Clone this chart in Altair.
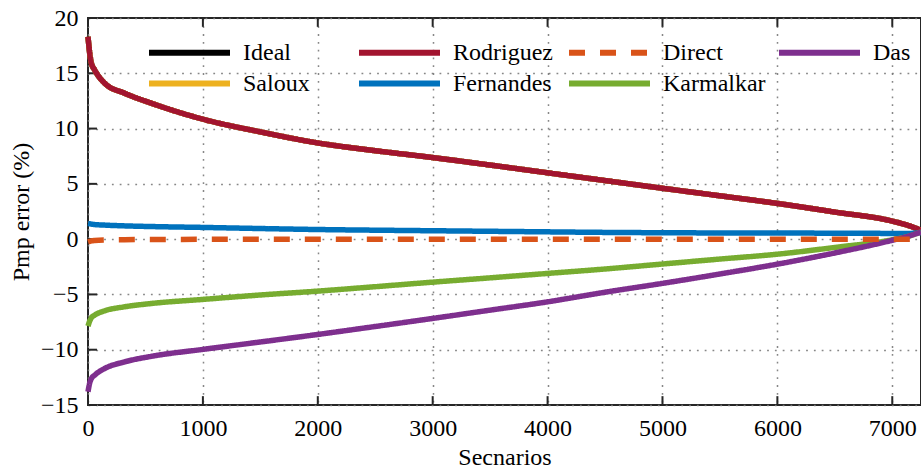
import altair as alt
import pandas as pd

# Scenario positions (x) at which values were read
scen = [0, 15, 30, 58, 145, 318, 550, 1000, 1500, 2000, 2500, 3000, 3500,
        4000, 4500, 5000, 5500, 6000, 6500, 7000, 7150, 7250]

ideal = [18.3, 16.8, 15.9, 15.3, 14.1, 13.2, 12.3, 10.85, 9.7, 8.7, 8.0, 7.38,
         6.7, 6.0, 5.3, 4.6, 3.92, 3.23, 2.45, 1.63, 1.2, 0.8]
saloux = [18.3, 16.8, 15.9, 15.3, 14.1, 13.2, 12.3, 10.85, 9.7, 8.7, 8.0, 7.38,
          6.7, 6.0, 5.3, 4.6, 3.92, 3.23, 2.45, 1.63, 1.2, 0.8]
rodriguez = [18.3, 16.8, 15.9, 15.3, 14.1, 13.2, 12.3, 10.85, 9.7, 8.7, 8.0, 7.38,
             6.7, 6.0, 5.3, 4.6, 3.92, 3.23, 2.45, 1.63, 1.2, 0.8]
fernandes = [1.42, 1.39, 1.36, 1.32, 1.27, 1.2, 1.14, 1.06, 0.96, 0.87, 0.81, 0.76,
             0.71, 0.66, 0.61, 0.58, 0.56, 0.55, 0.54, 0.52, 0.52, 0.6]
direct = [-0.25, -0.2, -0.16, -0.12, -0.07, -0.05, -0.03, -0.02, -0.02, -0.02, -0.02, -0.02,
          -0.02, -0.02, -0.02, -0.02, -0.02, -0.02, -0.02, -0.02, 0.0, 0.05]
karmalkar = [-7.87, -7.4, -7.1, -6.87, -6.48, -6.12, -5.82, -5.45, -5.05, -4.7, -4.3, -3.89,
             -3.5, -3.1, -2.7, -2.25, -1.8, -1.36, -0.75, -0.05, 0.3, 0.65]
das = [-13.8, -13.0, -12.6, -12.3, -11.7, -11.1, -10.6, -9.97, -9.3, -8.62, -7.9, -7.17,
       -6.42, -5.67, -4.8, -4.0, -3.15, -2.26, -1.25, -0.1, 0.3, 0.65]

# legend fills column by column: [Ideal, Saloux], [Rodriguez, Fernandes], [Direct, Karmalkar], [Das]
legend_order = ["Ideal", "Saloux", "Rodriguez", "Fernandes", "Direct", "Karmalkar", "Das"]
colors = ["#000000", "#EDB120", "#A2142F", "#0072BD", "#D95319", "#77AC30", "#7E2F8E"]
dashes = [[1, 0], [1, 0], [1, 0], [1, 0], [16, 15], [1, 0], [1, 0]]
draw_order = ["Ideal", "Saloux", "Rodriguez", "Fernandes", "Karmalkar", "Das", "Direct"]

series = {"Ideal": ideal, "Saloux": saloux, "Rodriguez": rodriguez,
          "Fernandes": fernandes, "Direct": direct, "Karmalkar": karmalkar, "Das": das}

x_ticks = [0, 1000, 2000, 3000, 4000, 5000, 6000, 7000]
y_ticks = [-15, -10, -5, 0, 5, 10, 15, 20]

rows = []
for name, vals in series.items():
    for xv, yv in zip(scen, vals):
        rows.append({"scen": xv, "err": yv, "series": name})
df = pd.DataFrame(rows)

FONT = "Liberation Serif, Times New Roman, DejaVu Serif, serif"
xscale = alt.Scale(domain=[0, 7250], nice=False, zero=False)
yscale = alt.Scale(domain=[-15, 20], nice=False, zero=False)

x_enc = alt.X("scen:Q", scale=xscale, title="Secnarios",
              axis=alt.Axis(values=x_ticks, format="d", tickSize=0, domain=False,
                            labelPadding=11, titlePadding=5, grid=True, labelFlush=False,
                            labelFont=FONT, titleFont=FONT))
y_enc = alt.Y("err:Q", scale=yscale, title="Pmp error (%)",
              axis=alt.Axis(values=y_ticks, format="d", tickSize=0, domain=False,
                            labelPadding=10, titlePadding=7, grid=True, labelFlush=False,
                            labelFont=FONT, titleFont=FONT))
color_enc = alt.Color("series:N", scale=alt.Scale(domain=legend_order, range=colors),
                      title=None,
                      legend=alt.Legend(orient="none", legendX=85, legendY=18, columns=4,
                                        gridAlign="all", symbolType="M-3,0H3",
                                        symbolSize=729, symbolStrokeWidth=6,
                                        labelOffset=37, columnPadding=1, rowPadding=2,
                                        padding=0, labelFont=FONT, labelFontSize=24,
                                        labelColor="#000000", symbolOpacity=1))
dash_enc = alt.StrokeDash("series:N", scale=alt.Scale(domain=legend_order, range=dashes),
                          title=None, legend=None)

layers = []
for name in draw_order:
    layers.append(
        alt.Chart(df).transform_filter(alt.datum.series == name)
        .mark_line(strokeWidth=5.5, interpolate="monotone", strokeCap="butt")
        .encode(x=x_enc, y=y_enc, color=color_enc, strokeDash=dash_enc)
    )

# inward tick marks drawn through the scales
bottom = pd.DataFrame({"scen": x_ticks, "y0": [-15] * len(x_ticks), "y1": [-14.2] * len(x_ticks)})
top = pd.DataFrame({"scen": x_ticks, "y0": [20] * len(x_ticks), "y1": [19.2] * len(x_ticks)})
left = pd.DataFrame({"err": y_ticks, "x0": [0] * len(y_ticks), "x1": [78] * len(y_ticks)})

tick_b = alt.Chart(bottom).mark_rule(color="#262626", strokeWidth=2).encode(
    x=alt.X("scen:Q", scale=xscale), y=alt.Y("y0:Q", scale=yscale), y2="y1:Q")
tick_t = alt.Chart(top).mark_rule(color="#262626", strokeWidth=2).encode(
    x=alt.X("scen:Q", scale=xscale), y=alt.Y("y0:Q", scale=yscale), y2="y1:Q")
tick_l = alt.Chart(left).mark_rule(color="#262626", strokeWidth=2).encode(
    y=alt.Y("err:Q", scale=yscale), x=alt.X("x0:Q", scale=xscale), x2="x1:Q")

chart = alt.layer(tick_b, tick_t, tick_l, *layers).properties(
    width=833, height=387,
    autosize=alt.AutoSizeParams(type="none"),
    padding={"left": 88, "top": 18, "right": 0, "bottom": 66},
    background="white",
).configure(
    font=FONT
).configure_view(
    stroke="#262626", strokeWidth=2
).configure_axis(
    labelFont=FONT, labelFontSize=24, labelColor="#000000",
    titleFont=FONT, titleFontSize=24, titleColor="#000000", titleFontWeight="normal",
    gridColor="#7a7a7a", gridDash=[1.8, 6], gridWidth=1.5, gridOpacity=0.9,
).configure_legend(
    labelFont=FONT
)

chart.save("out.html", embed_options={"renderer": "svg", "actions": False})
